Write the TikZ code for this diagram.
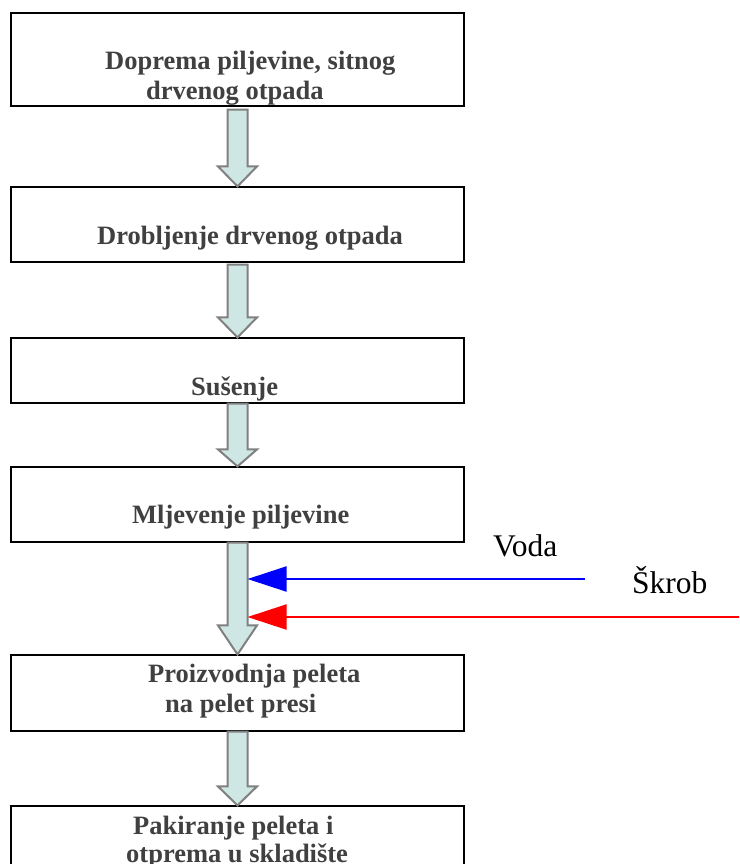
\documentclass[tikz,border=0pt]{standalone}
\usepackage{fontspec}
\setmainfont{Liberation Serif}
\usetikzlibrary{calc,arrows.meta}
\definecolor{txtgrey}{RGB}{64,64,64}
\definecolor{arrfill}{RGB}{207,231,228}
\definecolor{arrline}{RGB}{128,128,128}
\newcommand\blockarr[3]{%
  \draw[barrow] ($(#1)+(-10,0)$) -- ($(#2)+(-10,-#3)$) -- ($(#2)+(-19.5,-#3)$) -- (#2)
    -- ($(#2)+(19.5,-#3)$) -- ($(#2)+(10,-#3)$) -- ($(#1)+(10,0)$) -- cycle;}
\begin{document}
\begin{tikzpicture}[x=1pt,y=-1pt,
  stagebox/.style={draw=black,line width=1.2pt,rectangle,inner sep=0pt,minimum width=453pt},
  stagetext/.style={anchor=base west,inner sep=0pt,text=txtgrey,font=\fontsize{26.5}{30}\selectfont\bfseries},
  sidetext/.style={anchor=base west,inner sep=0pt,text=black,font=\fontsize{31.5}{36}\selectfont},
  barrow/.style={draw=arrline,fill=arrfill,line width=2pt,line join=miter},
  feed/.style={line width=2pt,-{Triangle[length=39pt,width=25pt]}}]
\useasboundingbox (0,0) rectangle (739,864);
\clip (0,0) rectangle (739,864);
\fill[white] (0,0) rectangle (739,864);
% boxes
\node[stagebox,minimum height=93pt] (b1) at (237.5,59.5) {};
\node[stagebox,minimum height=75pt] (b2) at (237.5,224.5) {};
\node[stagebox,minimum height=65pt] (b3) at (237.5,370.5) {};
\node[stagebox,minimum height=75pt] (b4) at (237.5,504.5) {};
\node[stagebox,minimum height=76pt] (b5) at (237.5,693) {};
\node[stagebox,minimum height=120pt] (b6) at (237.5,866) {};
% texts
\node[stagetext] (t1a) at (105,70) {Doprema piljevine, sitnog};
\node[stagetext] (t1b) at (146,100) {drvenog otpada};
\node[stagetext] (t2) at (97,244) {Drobljenje drvenog otpada};
\node[stagetext] (t3) at (191,395) {Sušenje};
\node[stagetext] (t4) at (132,523) {Mljevenje piljevine};
\node[stagetext] (t5a) at (148,682) {Proizvodnja peleta};
\node[stagetext] (t5b) at (165,712) {na pelet presi};
\node[stagetext] (t6a) at (133,834) {Pakiranje peleta i};
\node[stagetext] (t6b) at (126,862) {otprema u skladište};
% block arrows
\coordinate (a1s) at ($(b1.south)+(0,3)$);
\coordinate (a2s) at ($(b2.south)+(0,2)$);
\coordinate (a3s) at (b3.south);
\coordinate (a4s) at (b4.south);
\coordinate (a5s) at (b5.south);
\blockarr{a1s}{b2.north}{20}
\blockarr{a2s}{b3.north}{20}
\blockarr{a3s}{b4.north}{17}
\blockarr{a4s}{b5.north}{29}
\blockarr{a5s}{b6.north}{19}
% feeds
\coordinate (vstart) at (585,579);
\coordinate (vend) at (247.5,579);
\coordinate (sstart) at (740,617);
\coordinate (send) at (247.5,617);
\draw[feed,draw=blue,fill=blue] (vstart) -- (vend);
\draw[feed,draw=red,fill=red] (sstart) -- (send);
\node[sidetext] (voda) at (493,556) {Voda};
\node[sidetext] (skrob) at (632,593) {Škrob};
\end{tikzpicture}
\end{document}
